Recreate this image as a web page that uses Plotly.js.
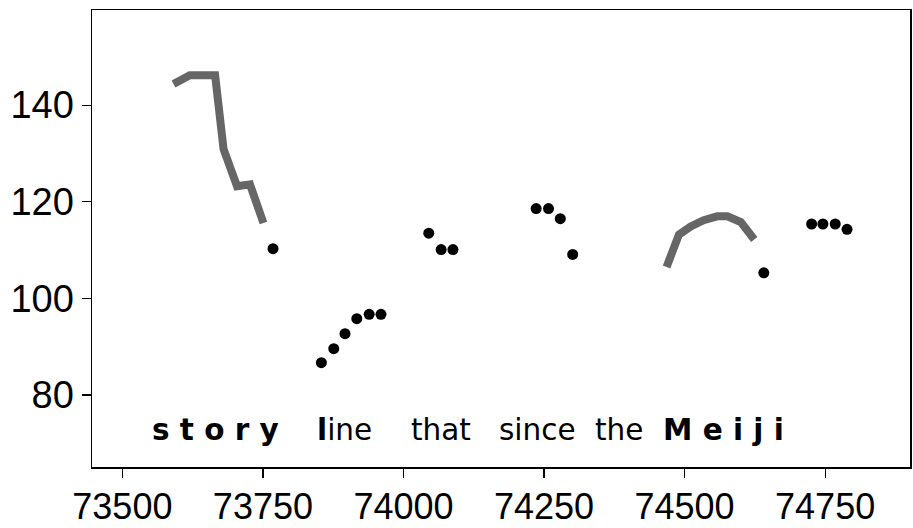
<!DOCTYPE html>
<html>
<head>
<meta charset="utf-8">
<script src="https://cdn.plot.ly/plotly-3.0.1.min.js"></script>
<style>
html,body{margin:0;padding:0;background:#fff;}
#chart{width:913px;height:528px;}
</style>
</head>
<body>
<div id="chart"></div>
<script>
// Pitch contour segment 1 ("story")
const seg1X = [73591, 73620, 73642, 73665, 73680, 73704, 73727, 73751];
const seg1Y = [144.4, 146.2, 146.2, 146.2, 130.9, 123.2, 123.6, 115.6];
// Pitch contour segment 2 ("Meiji")
const seg2X = [74468, 74490, 74511, 74534, 74558, 74576, 74600, 74624];
const seg2Y = [106.5, 113.2, 114.9, 116.2, 117.0, 117.0, 115.8, 112.2];
// Individual pitch points
const dotX = [73768, 73854, 73876, 73896, 73917, 73939, 73960,
              74045, 74067, 74088,
              74236, 74258, 74279, 74301,
              74641,
              74726, 74746, 74768, 74789];
const dotY = [110.3, 86.7, 89.6, 92.7, 95.8, 96.7, 96.7,
              113.5, 110.1, 110.1,
              118.6, 118.6, 116.5, 109.1,
              105.3,
              115.4, 115.4, 115.4, 114.3];
// Word labels
const words = ["<b>s t o r y</b>", "<b>l</b>ine", "that", "since", "the", "<b>M e i j i</b>"];
const wordX = [73666, 73895, 74066, 74238, 74384, 74569];
const wordY = [72.7, 72.7, 72.7, 72.7, 72.7, 72.7];
// Axis ticks
const xTicks = [73500, 73750, 74000, 74250, 74500, 74750];
const yTicks = [80, 100, 120, 140];

const traces = [
  {x: seg1X, y: seg1Y, mode: 'lines', line: {color: '#666666', width: 8}, hoverinfo: 'skip'},
  {x: seg2X, y: seg2Y, mode: 'lines', line: {color: '#666666', width: 8}, hoverinfo: 'skip'},
  {x: dotX, y: dotY, mode: 'markers', marker: {color: '#000000', size: 11}, hoverinfo: 'skip'}
];

const annotations = words.map((w, i) => ({
  x: wordX[i], y: wordY[i], xref: 'x', yref: 'y', text: w, showarrow: false,
  xanchor: 'center', yanchor: 'middle',
  font: {family: 'DejaVu Sans', size: 29.5, color: '#000000'}
}));

const layout = {
  width: 913, height: 528,
  margin: {l: 92, r: 3, t: 10, b: 61, pad: 0},
  paper_bgcolor: '#ffffff', plot_bgcolor: '#ffffff',
  showlegend: false,
  xaxis: {
    range: [73446, 74901], tickvals: xTicks, ticktext: xTicks.map(String),
    showgrid: false, zeroline: false, showline: true, mirror: true,
    linecolor: '#000000', linewidth: 1.5,
    ticks: 'outside', ticklen: 9, tickwidth: 1.2, tickcolor: '#000000',
    ticklabelstandoff: -2,
    tickfont: {family: 'Liberation Sans', size: 36, color: '#000000'}
  },
  yaxis: {
    range: [65.1, 159.7], tickvals: yTicks, ticktext: yTicks.map(String),
    showgrid: false, zeroline: false, showline: true, mirror: true,
    linecolor: '#000000', linewidth: 1.5,
    ticks: 'outside', ticklen: 9, tickwidth: 1.2, tickcolor: '#000000',
    tickfont: {family: 'Liberation Sans', size: 38, color: '#000000'}
  },
  annotations: annotations
};

Plotly.newPlot('chart', traces, layout, {displayModeBar: false, staticPlot: true});
</script>
</body>
</html>
